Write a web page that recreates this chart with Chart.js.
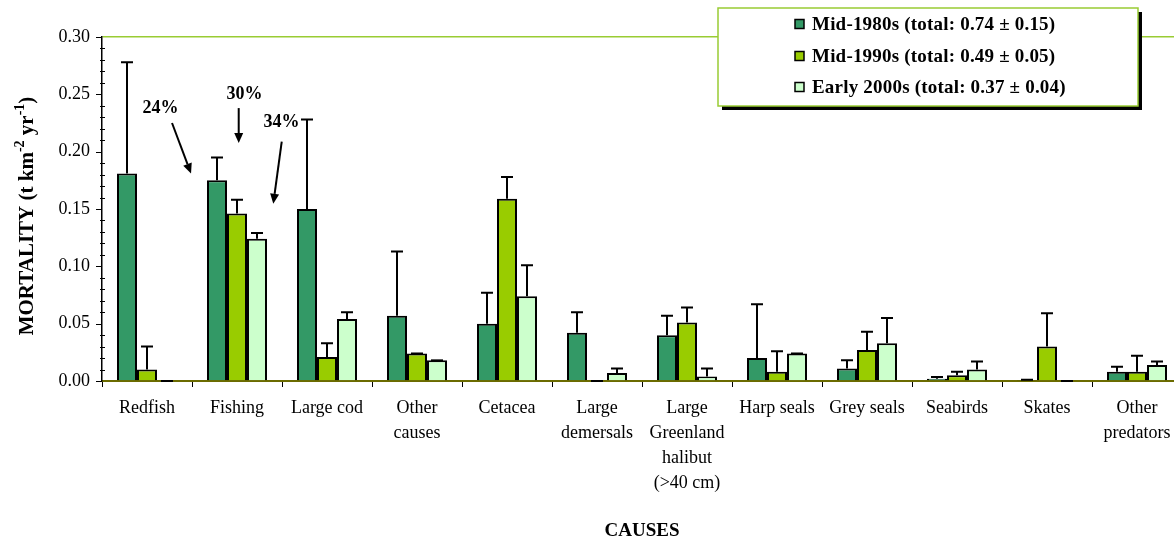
<!DOCTYPE html>
<html>
<head>
<meta charset="utf-8">
<script src="https://cdn.jsdelivr.net/npm/chart.js@4/dist/chart.umd.min.js"></script>
<style>
  html, body { margin: 0; padding: 0; background: #fff; overflow: hidden; }
  #wrap { position: relative; width: 1184px; height: 542px; }
</style>
</head>
<body>
<div id="wrap"><canvas id="c" width="1184" height="542"></canvas></div>
<script>
// Causes of mortality (category labels, wrapped as drawn under the axis)
const causes = [
  ['Redfish'], ['Fishing'], ['Large cod'], ['Other', 'causes'], ['Cetacea'],
  ['Large', 'demersals'], ['Large', 'Greenland', 'halibut', '(>40 cm)'],
  ['Harp seals'], ['Grey seals'], ['Seabirds'], ['Skates'], ['Other', 'predators']
];
const periods = ['Mid-1980s', 'Mid-1990s', 'Early 2000s'];
const totals = ['0.74 \u00b1 0.15', '0.49 \u00b1 0.05', '0.37 \u00b1 0.04'];

// Mortality (t km-2 yr-1) and upper error for each period
const mid1980s      = [0.181, 0.175, 0.150, 0.057, 0.050, 0.042, 0.040, 0.020, 0.011, 0.002, 0.0005, 0.008];
const mid1980sErr   = [0.097, 0.020, 0.078, 0.056, 0.027, 0.018, 0.017, 0.047, 0.007, 0.0015, 0.0005, 0.0045];
const mid1990s      = [0.010, 0.146, 0.021, 0.024, 0.159, 0, 0.051, 0.008, 0.027, 0.005, 0.030, 0.008];
const mid1990sErr   = [0.020, 0.012, 0.012, 0, 0.019, 0, 0.013, 0.018, 0.016, 0.003, 0.029, 0.014];
const early2000s    = [0, 0.124, 0.054, 0.018, 0.074, 0.007, 0.004, 0.024, 0.033, 0.010, 0, 0.014];
const early2000sErr = [0, 0.005, 0.006, 0, 0.027, 0.004, 0.007, 0, 0.022, 0.007, 0, 0.003];

// Y-axis tick labels
const yTicks = [0, 0.05, 0.10, 0.15, 0.20, 0.25, 0.30];

// Share of total mortality due to fishing in each period
const fishingShares = ['24%', '30%', '34%'];

const SERIF = '"Liberation Serif", "Times New Roman", serif';
const colours = ['#339966', '#99cc00', '#ccffcc'];
const values = [mid1980s, mid1990s, early2000s];
const errors = [mid1980sErr, mid1990sErr, early2000sErr];

// Upward error bars with a cap
const errorBarPlugin = {
  id: 'errorBars',
  afterDatasetsDraw(chart) {
    const ctx = chart.ctx;
    const ys = chart.scales.y;
    ctx.save();
    ctx.strokeStyle = '#000';
    ctx.lineWidth = 2;
    chart.data.datasets.forEach((ds, i) => {
      const meta = chart.getDatasetMeta(i);
      meta.data.forEach((bar, j) => {
        const v = ds.data[j];
        const e = ds.errorPlus[j];
        const y0 = ys.getPixelForValue(v);
        const y1 = ys.getPixelForValue(v + e);
        ctx.beginPath();
        ctx.moveTo(bar.x, y0);
        ctx.lineTo(bar.x, y1);
        ctx.moveTo(bar.x - 6, y1);
        ctx.lineTo(bar.x + 6, y1);
        ctx.stroke();
      });
    });
    ctx.restore();
  }
};

// Major and minor ticks on the value axis
const yTickMarks = {
  id: 'yTickMarks',
  afterDraw(chart) {
    const ctx = chart.ctx;
    const ys = chart.scales.y;
    const x = chart.chartArea.left;
    ctx.save();
    ctx.strokeStyle = '#000';
    ctx.lineWidth = 1;
    for (let k = 0; k <= 30; k++) {
      const y = Math.round(ys.getPixelForValue(k / 100)) + 0.5;
      ctx.beginPath();
      if (k % 5 === 0) { ctx.moveTo(x - 6, y); ctx.lineTo(x, y); }
      else { ctx.moveTo(x - 2, y); ctx.lineTo(x + 3, y); }
      ctx.stroke();
    }
    ctx.restore();
  }
};

// Percent labels with arrows above the fishing group
const shareNotes = {
  id: 'shareNotes',
  afterDraw(chart, args, opts) {
    const ctx = chart.ctx;
    const xs = chart.scales.x, ys = chart.scales.y;
    ctx.save();
    ctx.fillStyle = '#000';
    ctx.strokeStyle = '#000';
    ctx.lineWidth = 2;
    ctx.font = 'bold 18px ' + SERIF;
    ctx.textAlign = 'center';
    ctx.textBaseline = 'middle';
    opts.notes.forEach((n, i) => {
      ctx.fillText(fishingShares[i], xs.getPixelForValue(n.label[0]), ys.getPixelForValue(n.label[1]));
      const x1 = xs.getPixelForValue(n.from[0]), y1 = ys.getPixelForValue(n.from[1]);
      const x2 = xs.getPixelForValue(n.to[0]), y2 = ys.getPixelForValue(n.to[1]);
      const a = Math.atan2(y2 - y1, x2 - x1);
      const L = 10, W = 4.5;
      const bx = x2 - L * Math.cos(a), by = y2 - L * Math.sin(a);
      ctx.beginPath();
      ctx.moveTo(x1, y1);
      ctx.lineTo(bx, by);
      ctx.stroke();
      ctx.beginPath();
      ctx.moveTo(x2, y2);
      ctx.lineTo(bx + W * Math.sin(a), by - W * Math.cos(a));
      ctx.lineTo(bx - W * Math.sin(a), by + W * Math.cos(a));
      ctx.closePath();
      ctx.fill();
    });
    ctx.restore();
  }
};

// Boxed legend with drop shadow
const boxLegend = {
  id: 'boxLegend',
  afterDraw(chart, args, o) {
    const ctx = chart.ctx;
    const w = o.right - o.left, h = o.bottom - o.top;
    ctx.save();
    ctx.fillStyle = '#000';
    ctx.fillRect(o.left + 4, o.top + 4, w, h);
    ctx.fillStyle = '#fff';
    ctx.fillRect(o.left, o.top, w, h);
    ctx.strokeStyle = '#99cc33';
    ctx.lineWidth = 1.5;
    ctx.strokeRect(o.left, o.top, w, h);
    ctx.font = 'bold 19px ' + SERIF;
    ctx.letterSpacing = '0.2px';
    ctx.textBaseline = 'middle';
    chart.data.datasets.forEach((ds, i) => {
      const cy = o.rowY[i];
      ctx.fillStyle = ds.backgroundColor;
      ctx.fillRect(o.markerX, cy - 4.5, 9, 9);
      ctx.strokeStyle = '#000';
      ctx.lineWidth = 1.5;
      ctx.strokeRect(o.markerX, cy - 4.5, 9, 9);
      ctx.fillStyle = '#000';
      ctx.fillText(ds.label, o.textX, cy + 1);
    });
    ctx.restore();
  }
};

// Axis titles (value title carries superscripted units)
const axisTitles = {
  id: 'axisTitles',
  afterDraw(chart, args, o) {
    const ctx = chart.ctx;
    const ca = chart.chartArea;
    ctx.save();
    ctx.fillStyle = '#000';
    ctx.textBaseline = 'middle';
    ctx.font = 'bold 19px ' + SERIF;
    ctx.textAlign = 'center';
    ctx.fillText('CAUSES', (ca.left + ca.right) / 2, o.xTitleY);

    const parts = [
      { t: 'MORTALITY (t km', sup: false },
      { t: '-2', sup: true },
      { t: ' yr', sup: false },
      { t: '-1', sup: true },
      { t: ')', sup: false }
    ];
    const big = 'bold 21px ' + SERIF, small = 'bold 14px ' + SERIF;
    let total = 0;
    parts.forEach(p => { ctx.font = p.sup ? small : big; p.w = ctx.measureText(p.t).width; total += p.w; });
    ctx.translate(o.yTitleX, (ca.top + ca.bottom) / 2 + o.yTitleShift);
    ctx.rotate(-Math.PI / 2);
    ctx.textAlign = 'left';
    let x = -total / 2;
    parts.forEach(p => {
      ctx.font = p.sup ? small : big;
      ctx.fillText(p.t, x, p.sup ? -8 : 0);
      x += p.w;
    });
    ctx.restore();
  }
};

new Chart(document.getElementById('c'), {
  type: 'bar',
  data: {
    labels: causes,
    datasets: periods.map((p, i) => ({
      label: p + ' (total: ' + totals[i] + ')',
      data: values[i],
      errorPlus: errors[i],
      backgroundColor: colours[i],
      borderColor: '#000',
      borderWidth: 2,
      borderSkipped: 'start',
      barPercentage: 1,
      categoryPercentage: 2 / 3
    }))
  },
  options: {
    responsive: false,
    animation: false,
    layout: { padding: { top: 37, right: 2, left: 0, bottom: 0 } },
    plugins: {
      legend: { display: false },
      tooltip: { enabled: false },
      shareNotes: {
        notes: [
          { label: [0.15, 0.238], from: [0.278, 0.225], to: [0.489, 0.181] },
          { label: [1.083, 0.250], from: [1.019, 0.238], to: [1.019, 0.2075] },
          { label: [1.494, 0.226], from: [1.497, 0.2087], to: [1.403, 0.1545] }
        ]
      },
      boxLegend: { left: 718, top: 8, right: 1138, bottom: 106, markerX: 795, textX: 812, rowY: [24, 56, 87] },
      axisTitles: { xTitleY: 531, yTitleX: 28, yTitleShift: 7 }
    },
    scales: {
      x: {
        grid: { offset: true, drawOnChartArea: false, color: '#000', tickLength: 6, lineWidth: 1 },
        border: { color: '#6b6b00', width: 2 },
        ticks: {
          color: '#000',
          font: { family: SERIF, size: 18, lineHeight: 25 / 18 },
          padding: 9,
          maxRotation: 0,
          autoSkip: false
        },
        afterFit(s) { s.height = 542 - 381; }
      },
      y: {
        min: 0,
        max: 0.3,
        afterBuildTicks(s) { s.ticks = yTicks.map(v => ({ value: v })); },
        ticks: {
          color: '#000',
          font: { family: SERIF, size: 18 },
          padding: 12,
          callback: v => Number(v).toFixed(2)
        },
        grid: {
          drawTicks: false,
          lineWidth: 1.5,
          color: c => (c.tick && Math.abs(c.tick.value - 0.3) < 1e-9) ? '#99cc33' : 'rgba(0,0,0,0)'
        },
        border: { color: '#000', width: 1.5 },
        afterFit(s) { s.width = 102; }
      }
    }
  },
  plugins: [errorBarPlugin, yTickMarks, shareNotes, axisTitles, boxLegend]
});
</script>
</body>
</html>
